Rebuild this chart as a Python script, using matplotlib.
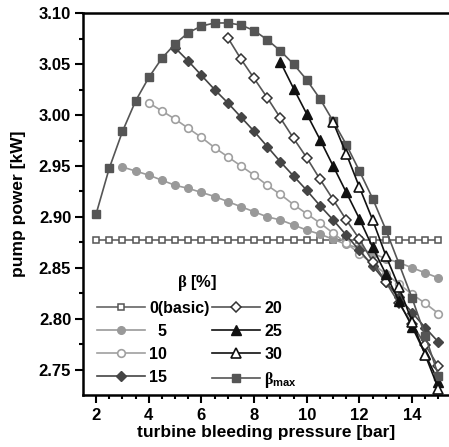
import numpy as np
import matplotlib
matplotlib.use("Agg")
import matplotlib.pyplot as plt

plt.rcParams['font.family'] = ['Liberation Sans', 'DejaVu Sans']
plt.rcParams['font.weight'] = 'bold'
plt.rcParams['mathtext.fontset'] = 'custom'
plt.rcParams['mathtext.it'] = 'Liberation Serif'
plt.rcParams['mathtext.rm'] = 'Liberation Sans'
plt.rcParams['mathtext.bf'] = 'Liberation Sans:bold'

# ---- data ----
x_basic = np.arange(2.0, 15.01, 0.5)
y_basic = [2.877] * len(x_basic)

x_b5 = np.arange(3.0, 15.01, 0.5)
y_b5 = [2.949, 2.945, 2.941, 2.936, 2.931, 2.928, 2.924, 2.920, 2.915, 2.910,
        2.905, 2.900, 2.897, 2.892, 2.887, 2.883, 2.878, 2.873, 2.869, 2.864,
        2.859, 2.855, 2.850, 2.845, 2.840]

x_b10 = np.arange(4.0, 15.01, 0.5)
y_b10 = [3.012, 3.004, 2.996, 2.987, 2.978, 2.968, 2.959, 2.950, 2.941, 2.931,
         2.922, 2.912, 2.903, 2.894, 2.884, 2.874, 2.864, 2.854, 2.844, 2.834,
         2.824, 2.815, 2.805]

x_b15 = np.arange(5.0, 15.01, 0.5)
y_b15 = [3.066, 3.053, 3.039, 3.025, 3.012, 2.998, 2.984, 2.969, 2.954, 2.940,
         2.926, 2.911, 2.897, 2.882, 2.867, 2.852, 2.836, 2.821, 2.806, 2.791,
         2.777]

x_b20 = np.arange(7.0, 15.01, 0.5)
y_b20 = [3.076, 3.055, 3.036, 3.017, 2.997, 2.977, 2.958, 2.937, 2.917, 2.897,
         2.878, 2.856, 2.836, 2.815, 2.795, 2.774, 2.753]

x_b25 = np.arange(9.0, 15.01, 0.5)
y_b25 = [3.052, 3.026, 3.001, 2.976, 2.950, 2.924, 2.898, 2.870, 2.844, 2.817,
         2.792, 2.765, 2.738]

x_b30 = np.arange(11.0, 15.01, 0.5)
y_b30 = [2.993, 2.962, 2.929, 2.897, 2.862, 2.831, 2.797, 2.764, 2.731]

x_bmax = np.arange(2.0, 15.01, 0.5)
y_bmax = [2.903, 2.948, 2.984, 3.014, 3.037, 3.056, 3.070, 3.081, 3.0875, 3.0905,
          3.0905, 3.0885, 3.083, 3.074, 3.063, 3.050, 3.0345, 3.016, 2.994, 2.971,
          2.945, 2.918, 2.8875, 2.854, 2.820, 2.783, 2.744]

labels = ['0(basic)', '  5', '10', '15', '20', '25', '30', r'$\beta_{\mathrm{max}}$']

# ---- figure ----
W, H = 449, 447
fig = plt.figure(figsize=(W / 100, H / 100), dpi=100)
left, right, top, bottom = 83, 449, 13.3, 395
ax = fig.add_axes([left / W, 1 - bottom / H, (right - left) / W, (bottom - top) / H])

lw = 1.2
series = [
    (x_basic, y_basic, dict(marker='s', ms=4.5, mfc='white', mec='#555555', color='#666666', mew=1.1), 2.0),
    (x_b5, y_b5, dict(marker='o', ms=5.5, mfc='#999999', mec='#999999', color='#9a9a9a', mew=1), 2.1),
    (x_b10, y_b10, dict(marker='o', ms=5.5, mfc='white', mec='#a0a0a0', color='#a0a0a0', mew=1.2), 2.2),
    (x_b15, y_b15, dict(marker='D', ms=5.5, mfc='#454545', mec='#454545', color='#444444', mew=1), 2.3),
    (x_b20, y_b20, dict(marker='D', ms=5.5, mfc='white', mec='#333333', color='#555555', mew=1.1), 2.4),
    (x_b25, y_b25, dict(marker='^', ms=6.5, mfc='#111111', mec='#111111', color='#111111', mew=1), 2.5),
    (x_b30, y_b30, dict(marker='^', ms=6.5, mfc='white', mec='#111111', color='#111111', mew=1.2), 2.7),
    (x_bmax, y_bmax, dict(marker='s', ms=5.2, mfc='#555555', mec='#555555', color='#555555', mew=1), 2.6),
]
handles = []
for (xs, ys, st, z), lab in zip(series, labels):
    h, = ax.plot(xs, ys, lw=lw, label=lab, zorder=z, **st)
    handles.append(h)

ax.set_xlim(1.5, 15.4)
ax.set_ylim(2.725, 3.10)
ax.set_xticks([2, 4, 6, 8, 10, 12, 14])
ax.set_xticks(np.arange(2.5, 15.01, 0.5), minor=True)
ax.set_yticks([2.75, 2.80, 2.85, 2.90, 2.95, 3.00, 3.05, 3.10])
ax.set_yticks(np.arange(2.75, 3.10, 0.025), minor=True)
ax.set_yticklabels(['2.75', '2.80', '2.85', '2.90', '2.95', '3.00', '3.05', '3.10'])

for s in ['left', 'bottom', 'top']:
    ax.spines[s].set_linewidth(1.8)
ax.spines['right'].set_visible(False)
ax.tick_params(axis='both', which='major', direction='out', length=5.5, width=1.5,
               labelsize=12)
ax.tick_params(axis='both', which='minor', direction='out', length=3, width=1.5)
ax.tick_params(axis='x', which='major', pad=4)
ax.tick_params(axis='y', which='major', pad=3)
for t in ax.get_xticklabels() + ax.get_yticklabels():
    t.set_fontweight('bold')

ax.set_xlabel('turbine bleeding pressure [bar]', fontsize=12.5, fontweight='bold', labelpad=1)
ax.set_ylabel('pump power [kW]', fontsize=12.5, fontweight='bold', labelpad=9)

leg = ax.legend(handles=handles, labels=labels, ncol=2, frameon=False,
                title=r'$\beta$ [%]', fontsize=11.5, title_fontsize=12,
                loc='upper left', bbox_to_anchor=(89 / W, 1 - 265 / H),
                bbox_transform=fig.transFigure, borderpad=0,
                handlelength=3.0, handletextpad=0.25, columnspacing=0.2,
                labelspacing=0.5)
for t in leg.get_texts():
    t.set_fontweight('bold')
leg.get_title().set_fontweight('bold')

fig.savefig('out.png', dpi=100)
